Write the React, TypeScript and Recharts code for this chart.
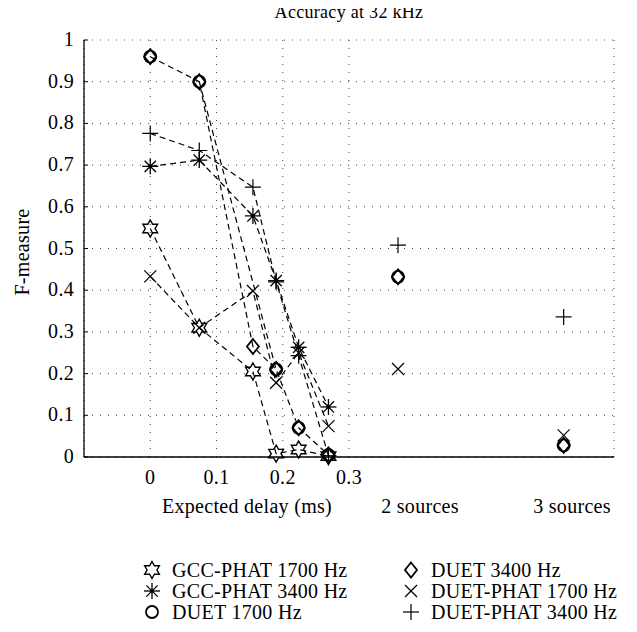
import { ComposedChart, Line, XAxis, YAxis, CartesianGrid } from 'recharts';

// expected delay (ms) of the single-source cases
const delays = [0, 0.074, 0.155, 0.19, 0.224, 0.269];
const gccPhat1700 = [0.548, 0.31, 0.205, 0.008, 0.018, 0.002];
const gccPhat3400 = [0.697, 0.712, 0.578, 0.423, 0.263, 0.12];
const duet1700 = [0.96, 0.9, null, 0.21, 0.07, 0.005];
const duet3400 = [0.96, 0.9, 0.265, 0.21, 0.07, 0.005];
const duetPhat1700 = [0.433, 0.31, 0.398, 0.178, 0.25, 0.074];
const duetPhat3400 = [0.776, 0.735, 0.647, 0.42, 0.243, 0.003];

// multi-source cases, drawn as lone markers
const sourcePos = [0.374, 0.624];
const sourceLabels = ['2 sources', '3 sources'];
const duet1700Src = [0.432, 0.028];
const duet3400Src = [0.432, 0.028];
const duetPhat1700Src = [0.211, 0.052];
const duetPhat3400Src = [0.508, 0.336];

const xTicks = [0, 0.1, 0.2, 0.3];
const yTicks = [0, 0.1, 0.2, 0.3, 0.4, 0.5, 0.6, 0.7, 0.8, 0.9, 1];

const FONT = '"Liberation Serif", "DejaVu Serif", serif';
const FS = 20;
const INK = '#000';

type Shape = 'star' | 'asterisk' | 'circle' | 'diamond' | 'cross' | 'plus';

const SERIES: { key: string; name: string; shape: Shape }[] = [
  { key: 'g17', name: 'GCC-PHAT 1700 Hz', shape: 'star' },
  { key: 'g34', name: 'GCC-PHAT 3400 Hz', shape: 'asterisk' },
  { key: 'd17', name: 'DUET 1700 Hz', shape: 'circle' },
  { key: 'd34', name: 'DUET 3400 Hz', shape: 'diamond' },
  { key: 'p17', name: 'DUET-PHAT 1700 Hz', shape: 'cross' },
  { key: 'p34', name: 'DUET-PHAT 3400 Hz', shape: 'plus' },
];

// DUET 1700 Hz runs on top of DUET 3400 Hz except where it skips a point;
// only that jump is stroked separately so the shared dashes don't double up
const duet1700Jump = duet1700.map((v, i) => {
  const gapBefore = i + 1 < duet1700.length && duet1700[i + 1] == null;
  const gapAfter = i > 0 && duet1700[i - 1] == null;
  return gapBefore || gapAfter ? v : null;
});

const rows: Record<string, number | null>[] = [
  ...delays.map((x, i) => ({
    x,
    g17: gccPhat1700[i],
    g34: gccPhat3400[i],
    d17: duet1700[i],
    d17j: duet1700Jump[i],
    d34: duet3400[i],
    p17: duetPhat1700[i],
    p34: duetPhat3400[i],
  })),
  ...sourcePos.map((x, i) => ({
    x,
    d17s: duet1700Src[i],
    d34s: duet3400Src[i],
    p17s: duetPhat1700Src[i],
    p34s: duetPhat3400Src[i],
  })),
];

function Marker({ shape, cx, cy, k }: { shape: Shape; cx: number; cy: number; k?: string }) {
  const s = { stroke: INK, fill: 'none' };
  if (shape === 'star') {
    const R = 8.5, r = R / Math.sqrt(3);
    const pts = Array.from({ length: 12 }, (_, i) => {
      const a = (-90 + i * 30) * Math.PI / 180;
      const rr = i % 2 === 0 ? R : r;
      return `${cx + rr * Math.cos(a)},${cy + rr * Math.sin(a)}`;
    }).join(' ');
    return <polygon key={k} points={pts} {...s} strokeWidth={1.4} />;
  }
  if (shape === 'asterisk') {
    const R = 8, d = R * Math.SQRT1_2;
    return (
      <g key={k} {...s} strokeWidth={1.3}>
        <line x1={cx - R} y1={cy} x2={cx + R} y2={cy} />
        <line x1={cx} y1={cy - R} x2={cx} y2={cy + R} />
        <line x1={cx - d} y1={cy - d} x2={cx + d} y2={cy + d} />
        <line x1={cx - d} y1={cy + d} x2={cx + d} y2={cy - d} />
        <circle cx={cx} cy={cy} r={2} fill={INK} stroke="none" />
      </g>
    );
  }
  if (shape === 'circle') return <circle key={k} cx={cx} cy={cy} r={6} {...s} strokeWidth={1.8} />;
  if (shape === 'diamond') {
    const pts = `${cx},${cy - 7.5} ${cx + 6},${cy} ${cx},${cy + 7.5} ${cx - 6},${cy}`;
    return <polygon key={k} points={pts} {...s} strokeWidth={1.8} />;
  }
  if (shape === 'cross') {
    const d = 6;
    return (
      <g key={k} {...s} strokeWidth={1.2}>
        <line x1={cx - d} y1={cy - d} x2={cx + d} y2={cy + d} />
        <line x1={cx - d} y1={cy + d} x2={cx + d} y2={cy - d} />
      </g>
    );
  }
  const d = 8;
  return (
    <g key={k} {...s} strokeWidth={1.2}>
      <line x1={cx - d} y1={cy} x2={cx + d} y2={cy} />
      <line x1={cx} y1={cy - d} x2={cx} y2={cy + d} />
    </g>
  );
}

const dotFor = (shape: Shape) => (p: any) => {
  if (p.cy == null || p.value == null) return <g key={`${shape}-${p.index}`} />;
  return <Marker key={`${shape}-${p.index}`} k={`${shape}-${p.index}`} shape={shape} cx={p.cx} cy={p.cy} />;
};

const fmt = (v: number) => (v === 0 ? '0' : v === 1 ? '1' : v.toFixed(1));

function YTick(props: any) {
  const { x, y, payload } = props;
  return (
    <g>
      <line x1={x + 10} x2={x + 14} y1={y} y2={y} stroke={INK} />
      <text x={x} y={y} dy={6} textAnchor="end" fill={INK} fontSize={FS} fontFamily={FONT} letterSpacing={0.3}>
        {fmt(payload.value)}
      </text>
    </g>
  );
}

const text = (extra: React.CSSProperties): React.CSSProperties => ({
  position: 'absolute',
  fontFamily: FONT,
  fontSize: FS,
  color: INK,
  whiteSpace: 'nowrap',
  lineHeight: '22px',
  letterSpacing: 0.3,
  ...extra,
});

const dashed = { stroke: INK, strokeWidth: 1.2, strokeDasharray: '6 4' };

export default function App() {
  return (
    <div style={{ position: 'relative', width: 637, height: 632, margin: '-8px 0 0 -8px', background: '#fff' }}>
      <ComposedChart
        width={637}
        height={632}
        data={rows}
        margin={{ top: 40, right: 23, left: 0, bottom: 145 }}
      >
        <CartesianGrid stroke="#444" strokeDasharray="1 7" />
        <XAxis
          dataKey="x"
          type="number"
          domain={[-0.1, 0.7]}
          ticks={xTicks}
          allowDataOverflow
          height={30}
          tickLine={false}
          tickMargin={7}
          axisLine={{ stroke: INK, strokeWidth: 1.3 }}
          tick={{ fill: INK, fontSize: FS, fontFamily: FONT, letterSpacing: 0.3 }}
          tickFormatter={(v: number) => (v === 0 ? '0' : v.toFixed(1))}
        />
        <YAxis
          type="number"
          domain={[0, 1]}
          ticks={yTicks}
          width={84}
          tickLine={false}
          tickSize={0}
          tickMargin={10}
          axisLine={{ stroke: INK, strokeWidth: 1.3 }}
          tick={<YTick />}
        />
        <Line dataKey="d17j" type="linear" {...dashed} connectNulls dot={false} activeDot={false} isAnimationActive={false} />
        {SERIES.map((s) => (
          <Line
            key={s.key}
            dataKey={s.key}
            type="linear"
            {...dashed}
            stroke={s.key === 'd17' ? 'none' : INK}
            dot={dotFor(s.shape)}
            activeDot={false}
            isAnimationActive={false}
          />
        ))}
        {SERIES.filter((s) => s.key.startsWith('d') || s.key.startsWith('p')).map((s) => (
          <Line
            key={s.key + 's'}
            dataKey={s.key + 's'}
            type="linear"
            stroke="none"
            dot={dotFor(s.shape)}
            activeDot={false}
            isAnimationActive={false}
          />
        ))}
      </ComposedChart>

      <svg style={{ position: 'absolute', left: 0, top: 0 }} width={637} height={30}>
        <text x={349} y={18} textAnchor="middle" fill={INK} fontSize={18} fontFamily={FONT} letterSpacing={0.3}>
          Accuracy at 32 kHz
        </text>
      </svg>
      <div style={text({ left: 22 - 70, top: 252 - 11, width: 140, textAlign: 'center', transform: 'rotate(-90deg)' })}>
        F-measure
      </div>
      <div style={text({ left: 247 - 100, width: 200, top: 495, textAlign: 'center' })}>Expected delay (ms)</div>
      {sourceLabels.map((l, i) => (
        <div key={l} style={text({ left: [420, 572][i] - 60, width: 120, top: 495, textAlign: 'center' })}>{l}</div>
      ))}

      {SERIES.map((s, i) => {
        const col = i < 3 ? 0 : 1;
        const row = i % 3;
        const mx = col === 0 ? 152 : 411;
        const y = 570 + row * 21;
        return (
          <div key={s.key}>
            <svg style={{ position: 'absolute', left: mx - 10, top: y - 10 }} width={20} height={20}>
              <Marker shape={s.shape} cx={10} cy={10} />
            </svg>
            <div style={text({ left: mx + 20, top: y - 11 })}>{s.name}</div>
          </div>
        );
      })}
    </div>
  );
}
